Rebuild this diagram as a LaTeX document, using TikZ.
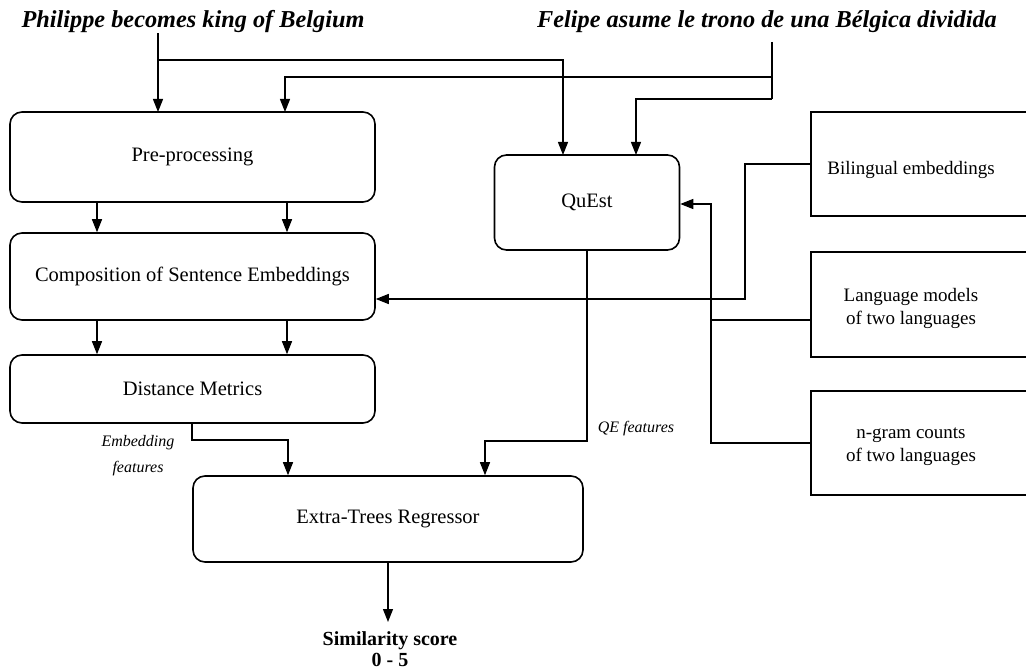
\documentclass[tikz,border=0pt]{standalone}
\usepackage{fontspec}
\setmainfont{Liberation Serif}
\usetikzlibrary{arrows.meta}
\begin{document}
\begin{tikzpicture}[x=1pt,y=-1pt,
  box/.style={draw, line width=1.6pt, rounded corners=12pt, inner sep=0pt,
    font=\fontsize{20.5}{23}\selectfont},
  rbox/.style={draw, line width=1.6pt, inner sep=0pt},
  rtxt/.style={align=center, inner sep=0pt, font=\fontsize{19}{23}\selectfont},
  title/.style={inner sep=0pt, font=\fontsize{24.3}{28}\selectfont\bfseries\itshape},
  lbl/.style={inner sep=0pt, font=\fontsize{16}{26}\selectfont\itshape, align=center},
  conn/.style={line width=1.3pt},
  arr/.style={conn, -{Triangle[length=13pt,width=10pt]}}]
\useasboundingbox (0,0) rectangle (1026,671);

% titles
\node[title] (t1) at (193,22) {Philippe becomes king of Belgium};
\node[title] (t2) at (767,22) {Felipe asume le trono de una Bélgica dividida};

% left column
\node[box, minimum width=365pt, minimum height=90pt] (pre) at (192.5,157) {Pre-processing};
\node[box, minimum width=365pt, minimum height=87pt] (comp) at (192.5,276.5) {Composition of Sentence Embeddings};
\node[box, minimum width=365pt, minimum height=68pt] (dist) at (192.5,389) {Distance Metrics};
\node[box, minimum width=390pt, minimum height=86pt] (etr) at (388,519) {Extra-Trees Regressor};
\node[box, minimum width=185pt, minimum height=95pt] (quest) at (587,202.5) {QuEst};

% right boxes (cut by the page edge)
\node[rbox, minimum width=240pt, minimum height=104pt] (bil) at (931,164) {};
\node[rtxt] (bilt) at (911,170) {Bilingual embeddings};
\node[rbox, minimum width=240pt, minimum height=105pt] (lm) at (931,304.5) {};
\node[rtxt] (lmt) at (911,308) {Language models\\of two languages};
\node[rbox, minimum width=240pt, minimum height=104pt] (ng) at (931,443) {};
\node[rtxt] (ngt) at (911,447) {n-gram counts\\of two languages};

% output
\node[inner sep=0pt, align=center, font=\fontsize{20}{21}\selectfont\bfseries] (score) at (390,649) {Similarity score\\0 - 5};

% labels
\node[lbl] (embl) at (138,456) {Embedding\\features};
\node[lbl] (qel) at (636,429) {QE features};

% coordinates on box edges
\coordinate (a1) at (158,112);
\coordinate (a2) at (285,112);
\coordinate (q1) at (563,155);
\coordinate (q2) at (636,155);
\coordinate (c1) at (97,0);
\coordinate (c2) at (287,0);
\coordinate (f0) at (772,42);

% inputs
\draw[arr] (a1 |- t1.south) -- (a1);
\draw[arr] (a1 |- 0,60) -| (q1);
\draw[conn] (f0) -- (772,99);
\draw[arr] (772,99) -| (q2);
\draw[arr] (772,77) -| (a2);

% left column flow
\draw[arr] (pre.south -| c1) -- (comp.north -| c1);
\draw[arr] (pre.south -| c2) -- (comp.north -| c2);
\draw[arr] (comp.south -| c1) -- (dist.north -| c1);
\draw[arr] (comp.south -| c2) -- (dist.north -| c2);

% features to regressor
\draw[arr] (dist.south -| 192,0) -- (192,440) -| (etr.north -| 288,0);
\draw[arr] (quest.south) -- (587,441) -| (etr.north -| 485,0);
\draw[arr] (etr.south) -- (388,622);

% resources
\draw[arr] (bil.west |- 0,164) -- (745,164) -- (745,299) -- (comp.east |- 0,299);
\draw[conn] (lm.west |- 0,320) -- (711,320);
\draw[arr] (ng.west |- 0,443) -- (711,443) -- (711,204) -- (quest.east |- 0,204);
\end{tikzpicture}
\end{document}
